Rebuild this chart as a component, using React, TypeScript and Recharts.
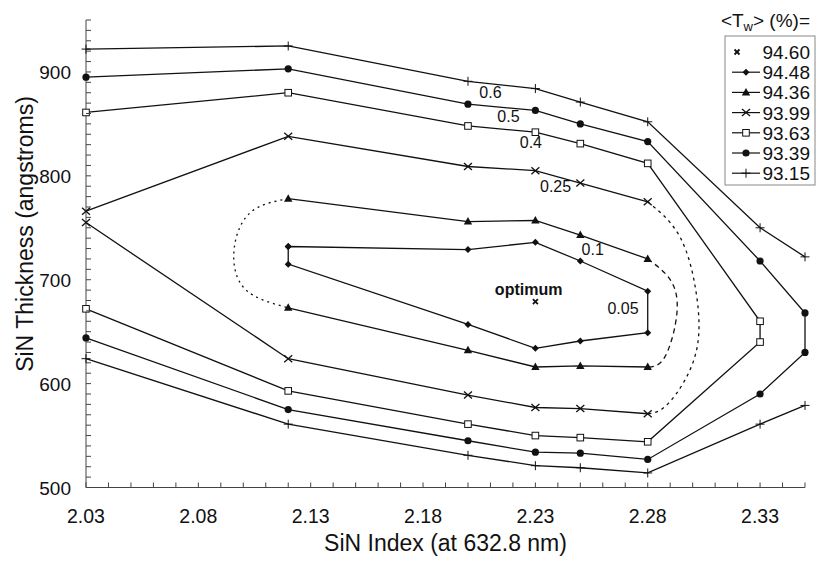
import { Customized, Label, Line, LineChart, ReferenceDot, XAxis, YAxis } from "recharts"

// axis ticks
const xMajorTicks = [2.03, 2.08, 2.13, 2.18, 2.23, 2.28, 2.33]
const yMajorTicks = [500, 600, 700, 800, 900]
const xAllTicks = Array.from({ length: 33 }, (_, i) => Math.round((2.03 + i * 0.01) * 100) / 100)
const yAllTicks = Array.from({ length: 46 }, (_, i) => 500 + i * 10)

// contour <Tw> = 94.60 (optimum point)
const t9460 = [{ x: 2.23, y: 679 }]

// 94.48 (closed)
const t9448 = [
  { x: 2.12, y: 732 }, { x: 2.2, y: 729 }, { x: 2.23, y: 736 }, { x: 2.25, y: 718 }, { x: 2.28, y: 689 },
  { x: 2.28, y: 649 }, { x: 2.25, y: 641 }, { x: 2.23, y: 634 }, { x: 2.2, y: 657 }, { x: 2.12, y: 715 },
  { x: 2.12, y: 732 },
]

// 94.36
const t9436Upper = [{ x: 2.12, y: 778 }, { x: 2.2, y: 756 }, { x: 2.23, y: 757 }, { x: 2.25, y: 743 }, { x: 2.28, y: 720 }]
const t9436Lower = [{ x: 2.28, y: 616 }, { x: 2.25, y: 617 }, { x: 2.23, y: 616 }, { x: 2.2, y: 632 }, { x: 2.12, y: 673 }]
const t9436Right = [{ x: 2.28, y: 720 }, { x: 2.29, y: 700 }, { x: 2.293, y: 668 }, { x: 2.2877, y: 626 }, { x: 2.28, y: 616 }]
const t9436Left = [{ x: 2.12, y: 778 }, { x: 2.1028, y: 764 }, { x: 2.0958, y: 726 }, { x: 2.1013, y: 690 }, { x: 2.12, y: 673 }]

// 93.99
const t9399Upper = [{ x: 2.03, y: 766 }, { x: 2.12, y: 838 }, { x: 2.2, y: 809 }, { x: 2.23, y: 805 }, { x: 2.25, y: 793 }, { x: 2.28, y: 775 }]
const t9399Lower = [{ x: 2.28, y: 571 }, { x: 2.25, y: 576 }, { x: 2.23, y: 577 }, { x: 2.2, y: 589 }, { x: 2.12, y: 624 }, { x: 2.03, y: 755 }]
const t9399Right = [
  { x: 2.28, y: 775 }, { x: 2.2944, y: 741 }, { x: 2.3018, y: 684 }, { x: 2.301, y: 626 }, { x: 2.2892, y: 581 }, { x: 2.28, y: 571 },
]

// 93.63
const t9363 = [
  { x: 2.03, y: 861 }, { x: 2.12, y: 880 }, { x: 2.2, y: 848 }, { x: 2.23, y: 842 }, { x: 2.25, y: 831 }, { x: 2.28, y: 812 },
  { x: 2.33, y: 660 }, { x: 2.33, y: 640 }, { x: 2.28, y: 544 }, { x: 2.25, y: 548 }, { x: 2.23, y: 550 }, { x: 2.2, y: 561 },
  { x: 2.12, y: 593 }, { x: 2.03, y: 672 },
]

// 93.39
const t9339 = [
  { x: 2.03, y: 895 }, { x: 2.12, y: 903 }, { x: 2.2, y: 869 }, { x: 2.23, y: 863 }, { x: 2.25, y: 850 }, { x: 2.28, y: 833 },
  { x: 2.33, y: 718 }, { x: 2.35, y: 668 }, { x: 2.35, y: 630 }, { x: 2.33, y: 590 }, { x: 2.28, y: 527 }, { x: 2.25, y: 533 },
  { x: 2.23, y: 534 }, { x: 2.2, y: 545 }, { x: 2.12, y: 575 }, { x: 2.03, y: 644 },
]

// 93.15
const t9315Upper = [
  { x: 2.03, y: 922 }, { x: 2.12, y: 925 }, { x: 2.2, y: 891 }, { x: 2.23, y: 884 }, { x: 2.25, y: 871 }, { x: 2.28, y: 852 },
  { x: 2.33, y: 750 }, { x: 2.35, y: 722 },
]
const t9315Lower = [
  { x: 2.35, y: 579 }, { x: 2.33, y: 561 }, { x: 2.28, y: 514 }, { x: 2.25, y: 519 }, { x: 2.23, y: 521 }, { x: 2.2, y: 531 },
  { x: 2.12, y: 561 }, { x: 2.03, y: 624 },
]

// contour value labels
const contourLabels = [
  { x: 2.21, y: 880, text: "0.6" },
  { x: 2.218, y: 857, text: "0.5" },
  { x: 2.228, y: 832, text: "0.4" },
  { x: 2.239, y: 790, text: "0.25" },
  { x: 2.2555, y: 729, text: "0.1" },
  { x: 2.269, y: 672, text: "0.05" },
]

const legendItems = [
  { label: "94.60", kind: "opt" },
  { label: "94.48", kind: "diamond" },
  { label: "94.36", kind: "triangle" },
  { label: "93.99", kind: "cross" },
  { label: "93.63", kind: "square" },
  { label: "93.39", kind: "circle" },
  { label: "93.15", kind: "plus" },
]

const INK = "#111"

function Marker({ kind, cx, cy }: { kind: string; cx: number; cy: number }) {
  switch (kind) {
    case "opt":
      return (
        <g stroke={INK} strokeWidth={1.8}>
          <line x1={cx - 2.5} y1={cy - 2.5} x2={cx + 2.5} y2={cy + 2.5} />
          <line x1={cx - 2.5} y1={cy + 2.5} x2={cx + 2.5} y2={cy - 2.5} />
        </g>
      )
    case "diamond":
      return <polygon points={`${cx},${cy - 3.5} ${cx + 3.5},${cy} ${cx},${cy + 3.5} ${cx - 3.5},${cy}`} fill={INK} />
    case "triangle":
      return <polygon points={`${cx},${cy - 4.5} ${cx + 4.2},${cy + 3} ${cx - 4.2},${cy + 3}`} fill={INK} />
    case "cross":
      return (
        <g stroke={INK} strokeWidth={1.3}>
          <line x1={cx - 4} y1={cy - 3.5} x2={cx + 4} y2={cy + 3.5} />
          <line x1={cx - 4} y1={cy + 3.5} x2={cx + 4} y2={cy - 3.5} />
        </g>
      )
    case "square":
      return <rect x={cx - 3.3} y={cy - 3.3} width={6.6} height={6.6} fill="#fff" stroke={INK} strokeWidth={1} />
    case "circle":
      return <circle cx={cx} cy={cy} r={3.6} fill={INK} />
    case "plus":
      return (
        <g stroke={INK} strokeWidth={1}>
          <line x1={cx - 4.5} y1={cy} x2={cx + 4.5} y2={cy} />
          <line x1={cx} y1={cy - 4.5} x2={cx} y2={cy + 4.5} />
        </g>
      )
    default:
      return null
  }
}

const dotFor = (kind: string) => (p: any) => <Marker key={`${kind}-${p.index}`} kind={kind} cx={p.cx} cy={p.cy} />

const XTick = (props: any) => {
  const { x, y, payload } = props
  const major = xMajorTicks.some((m) => Math.abs(m - payload.value) < 1e-6)
  return (
    <g>
      <line x1={x} y1={y} x2={x} y2={y - 5} stroke="#444" />
      {major && (
        <text x={x} y={y + 35} textAnchor="middle" fontSize={19.5} fill={INK}>
          {payload.value.toFixed(2)}
        </text>
      )}
    </g>
  )
}

const YTick = (props: any) => {
  const { x, y, payload } = props
  const major = yMajorTicks.includes(payload.value)
  return (
    <g>
      <line x1={x} y1={y} x2={x + 5} y2={y} stroke="#444" />
      {major && (
        <text x={x - 15} y={y + 7} textAnchor="end" fontSize={19} fill={INK}>
          {payload.value}
        </text>
      )}
    </g>
  )
}

function LegendBox() {
  return (
    <g>
      <text x={810} y={27} textAnchor="end" fontSize={19} fill={INK}>
        {"<T"}
        <tspan dy={4} fontSize={13}>w</tspan>
        <tspan dy={-4}>{"> (%)="}</tspan>
      </text>
      <rect x={725} y={36} width={90} height={149} fill="#fff" stroke="#888" />
      {legendItems.map((it, i) => {
        const cy = 52 + i * 20.2
        return (
          <g key={it.label}>
            {it.kind !== "opt" && <line x1={732} y1={cy} x2={760} y2={cy} stroke={INK} strokeWidth={1.2} />}
            <Marker kind={it.kind} cx={it.kind === "opt" ? 737 : 746} cy={cy} />
            <text x={810} y={cy + 7} textAnchor="end" fontSize={19} fill={INK}>
              {it.label}
            </text>
          </g>
        )
      })}
    </g>
  )
}

const solid = { stroke: INK, strokeWidth: 1.3, isAnimationActive: false, activeDot: false, legendType: "none" as const }

export default function App() {
  return (
    <div style={{ fontFamily: "'Liberation Sans', Arial, sans-serif" }}>
      <style>{"body{margin:0}"}</style>
      <LineChart width={817} height={561} margin={{ top: 20, right: 12, bottom: 34, left: 0 }}>
        <XAxis
          type="number"
          dataKey="x"
          domain={[2.03, 2.35]}
          ticks={xAllTicks}
          interval={0}
          tickSize={0}
          tickMargin={0}
          tick={XTick}
          height={39.5}
          stroke="#444"
        >
          <Label
            content={() => (
              <text x={445.5} y={551} textAnchor="middle" fontSize={23} fill={INK}>
                SiN Index (at 632.8 nm)
              </text>
            )}
          />
        </XAxis>
        <YAxis
          type="number"
          dataKey="y"
          domain={[500, 950]}
          ticks={yAllTicks}
          interval={0}
          tickSize={0}
          tickMargin={0}
          tick={YTick}
          width={86}
          stroke="#444"
        >
          <Label
            content={() => (
              <text
                x={25}
                y={234}
                transform="rotate(-90 25 234)"
                textAnchor="middle"
                dominantBaseline="central"
                fontSize={23}
                fill={INK}
              >
                SiN Thickness (angstroms)
              </text>
            )}
          />
        </YAxis>

        {/* dashed / dotted closing arcs */}
        <Line data={t9436Left} dataKey="y" type="natural" dot={false} strokeDasharray="2 4" {...solid} />
        <Line data={t9436Right} dataKey="y" type="natural" dot={false} strokeDasharray="5 4" {...solid} />
        <Line data={t9399Right} dataKey="y" type="natural" dot={false} strokeDasharray="3 4" {...solid} />

        <Line data={t9315Upper} dataKey="y" name="93.15" dot={dotFor("plus")} {...solid} />
        <Line data={t9315Lower} dataKey="y" name="93.15b" dot={dotFor("plus")} {...solid} />
        <Line data={t9339} dataKey="y" name="93.39" dot={dotFor("circle")} {...solid} />
        <Line data={t9363} dataKey="y" name="93.63" dot={dotFor("square")} {...solid} />
        <Line data={t9399Upper} dataKey="y" name="93.99" dot={dotFor("cross")} {...solid} />
        <Line data={t9399Lower} dataKey="y" name="93.99b" dot={dotFor("cross")} {...solid} />
        <Line data={t9436Upper} dataKey="y" name="94.36" dot={dotFor("triangle")} {...solid} />
        <Line data={t9436Lower} dataKey="y" name="94.36b" dot={dotFor("triangle")} {...solid} />
        <Line data={t9448} dataKey="y" name="94.48" dot={dotFor("diamond")} {...solid} />
        <Line data={t9460} dataKey="y" name="94.60" dot={dotFor("opt")} {...solid} />

        {contourLabels.map((c) => (
          <ReferenceDot
            key={c.text}
            x={c.x}
            y={c.y}
            r={0}
            fill="none"
            stroke="none"
            label={{ value: c.text, position: "center", fontSize: 16, fill: INK }}
          />
        ))}
        <ReferenceDot
          x={2.227}
          y={690.5}
          r={0}
          fill="none"
          stroke="none"
          label={{ value: "optimum", position: "center", fontSize: 16, fontWeight: "bold", fill: INK }}
        />

        <Customized component={LegendBox} />
      </LineChart>
    </div>
  )
}
